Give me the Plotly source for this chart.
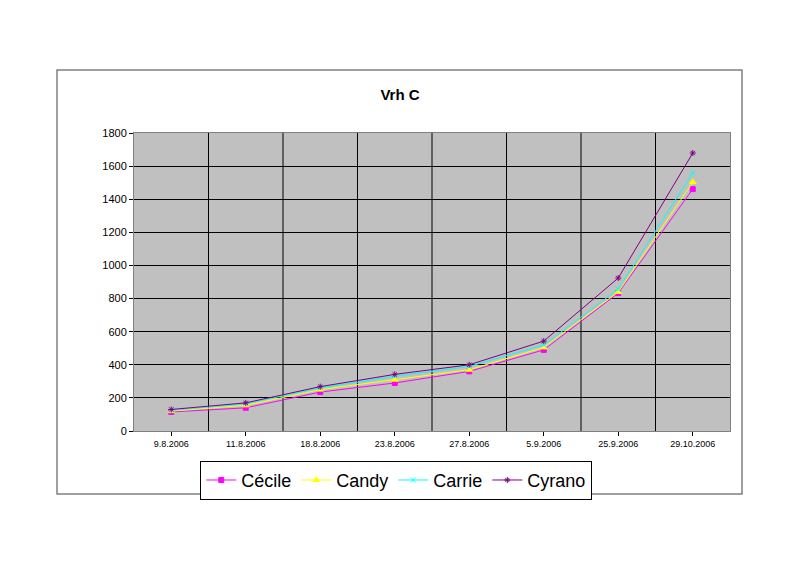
import plotly.graph_objects as go

dates = ['9.8.2006', '11.8.2006', '18.8.2006', '23.8.2006',
         '27.8.2006', '5.9.2006', '25.9.2006', '29.10.2006']

cecile = [115, 140, 235, 290, 360, 490, 833, 1461]
candy = [120, 155, 250, 310, 370, 505, 840, 1503]
carrie = [125, 165, 260, 330, 390, 520, 857, 1558]
cyrano = [130, 170, 268, 342, 400, 543, 924, 1679]

y_ticks = list(range(0, 1801, 200))

series = [
    ('Cécile', cecile, '#FF00FF', 'square', 5),
    ('Candy', candy, '#FFFF00', 'triangle-up', 6),
    ('Carrie', carrie, '#00FFFF', 'x-thin', 5),
    ('Cyrano', cyrano, '#800080', 'asterisk', 5),
]

fig = go.Figure()
for name, vals, col, sym, size in series:
    fig.add_trace(go.Scatter(
        x=dates, y=vals, name=name, mode='lines+markers',
        line=dict(color=col, width=1),
        marker=dict(symbol=sym, size=size, color=col, line=dict(color=col, width=1)),
    ))

# page has an 8px body offset, so margins are compensated
fig.update_layout(
    width=800, height=566,
    margin=dict(l=126, r=78, t=125, b=143),
    paper_bgcolor='white',
    plot_bgcolor='#C0C0C0',
    font=dict(family='Arial, Liberation Sans', color='black'),
    title=dict(text='<b>Vrh C</b>', x=(400 - 8) / 800, xanchor='center',
               y=1 - 87 / 566, yanchor='middle', font=dict(size=15)),
    showlegend=True,
    legend=dict(orientation='h', x=0.44, xanchor='center', y=-0.1, yanchor='top',
                bordercolor='black', borderwidth=1, bgcolor='white',
                font=dict(size=18), itemwidth=30, tracegroupgap=0),
    xaxis=dict(
        type='category', range=[-0.5, 7.5],
        showgrid=False, ticks='outside', ticklen=4, tickcolor='black',
        tickfont=dict(size=9), showline=True, linecolor='#808080', mirror=True,
        fixedrange=True,
    ),
    yaxis=dict(
        range=[0, 1800], tickvals=y_ticks, ticks='outside', ticklen=4, tickcolor='black',
        gridcolor='black', gridwidth=1, tickfont=dict(size=11),
        showline=True, linecolor='#808080', mirror=True, zeroline=False,
    ),
)

# vertical gridlines between categories
for i in range(1, 8):
    fig.add_shape(type='line', xref='x', yref='paper', x0=i - 0.5, x1=i - 0.5, y0=0, y1=1,
                  line=dict(color='black', width=1), layer='below')

# outer chart border
fig.add_shape(type='rect', xref='paper', yref='paper',
              x0=(57 - 134) / 596, x1=(742 - 134) / 596,
              y0=(431 - 494) / 298, y1=(431 - 70) / 298,
              line=dict(color='#808080', width=1.5))

fig.write_html('out.html')
